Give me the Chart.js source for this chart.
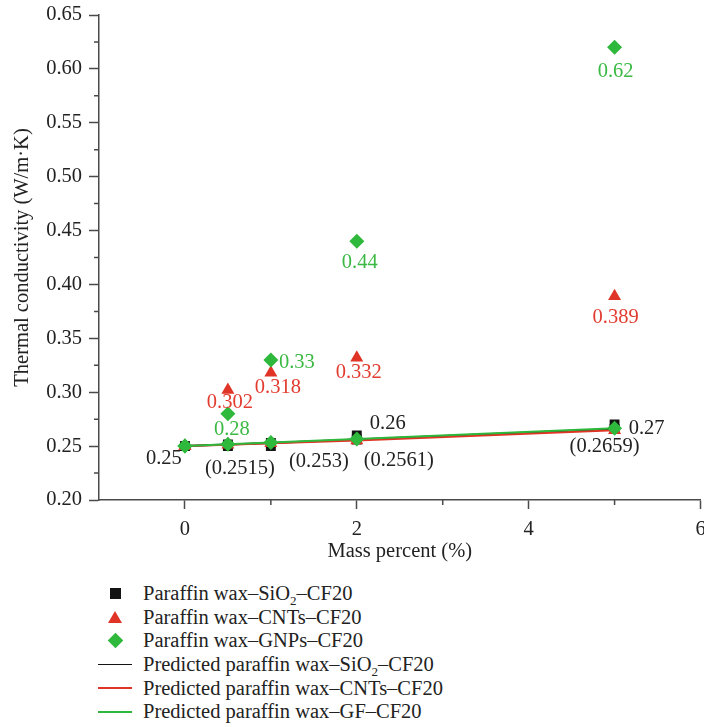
<!DOCTYPE html>
<html>
<head>
<meta charset="utf-8">
<script src="https://cdn.jsdelivr.net/npm/chart.js@4.4.0/dist/chart.umd.min.js"></script>
<style>
    body { margin: 0; background: #fff; }
    #wrap { position: relative; width: 704px; height: 727px; overflow: hidden; }
    #legend { position: absolute; left: 0; top: 582px; font-family: "Liberation Serif", serif; font-size: 20.5px; color: #222; }
    .row { display: flex; align-items: center; height: 23.6px; white-space: nowrap; }
    .key { width: 34px; margin-left: 98px; margin-right: 11px; display: flex; justify-content: center; align-items: center; height: 20px; }
    .sq { width: 11px; height: 11px; }
    .tri { width: 0; height: 0; border-left: 7px solid transparent; border-right: 7px solid transparent; border-bottom: 12px solid; }
    .dia { width: 11px; height: 11px; transform: rotate(45deg); }
    .ln { width: 34px; height: 1.5px; }
    sub { font-size: 13px; line-height: 0; }
</style>
</head>
<body>
<div id="wrap">
    <canvas id="chart" width="708" height="575"></canvas>
    <div id="legend"></div>
</div>
<script>
// Data
const massPercent = [0, 0.5, 1, 2, 5];
const sio2Measured = [0.25, 0.25, 0.25, 0.26, 0.27];
const cntsMeasured = [0.25, 0.302, 0.318, 0.332, 0.389];
const gnpsMeasured = [0.25, 0.28, 0.33, 0.44, 0.62];
const sio2Predicted = [0.25, 0.2515, 0.253, 0.2561, 0.2659];
const cntsPredicted = [0.25, 0.2512, 0.2526, 0.2553, 0.2648];
const gfPredicted = [0.25, 0.2517, 0.2533, 0.2565, 0.2665];

const xTicks = [0, 2, 4, 6];
const xMinorTicks = [1, 3, 5];
const yTicks = [0.20, 0.25, 0.30, 0.35, 0.40, 0.45, 0.50, 0.55, 0.60, 0.65];
const yMinorTicks = [0.225, 0.275, 0.325, 0.375, 0.425, 0.475, 0.525, 0.575, 0.625];

const seriesNames = [
    'Paraffin wax–SiO2–CF20',
    'Paraffin wax–CNTs–CF20',
    'Paraffin wax–GNPs–CF20',
    'Predicted paraffin wax–SiO2–CF20',
    'Predicted paraffin wax–CNTs–CF20',
    'Predicted paraffin wax–GF–CF20'
];

const BLACK = '#141414';
const RED = '#e03426';
const GREEN = '#2eb83c';
const AXIS = '#4a4a4a';
const FONT = '"Liberation Serif", serif';

const toPoints = ys => massPercent.map((x, i) => ({ x, y: ys[i] }));

// Value labels next to points (offsets in px from the point)
const valueLabels = [
    { dataset: 0, values: sio2Measured, color: '#222', format: v => String(v), offsets: [[-21, 12], null, null, [31, -12], [32, 4]] },
    { dataset: 3, values: sio2Predicted, color: '#222', format: v => '(' + v + ')', offsets: [null, [12, 24], [48, 19], [42, 21], [-10, 18]] },
    { dataset: 1, values: cntsMeasured, color: '#e23c30', format: v => String(v), offsets: [null, [2, 13], [7, 15], [2, 15], [1, 21]] },
    { dataset: 2, values: gnpsMeasured, color: '#3cb944', format: v => String(v), offsets: [null, [4, 16], [26, 3], [3, 21], [1, 24]] }
];

function pointSet(label, ys, color, style, radius, order) {
    return {
        label, data: toPoints(ys), showLine: false, order,
        pointStyle: style, pointRadius: radius, pointHoverRadius: radius,
        backgroundColor: color, borderColor: color, pointBorderWidth: 0
    };
}

function lineSet(label, ys, color, style, radius, order) {
    return {
        label, data: toPoints(ys), showLine: true, order,
        borderColor: color, borderWidth: 2, backgroundColor: color,
        pointStyle: style, pointRadius: radius, pointHoverRadius: radius, pointBorderWidth: 0
    };
}

const valueLabelPlugin = {
    id: 'valueLabels',
    afterDatasetsDraw(chart) {
        const ctx = chart.ctx;
        ctx.save();
        ctx.font = '20.5px ' + FONT;
        ctx.textAlign = 'center';
        ctx.textBaseline = 'middle';
        valueLabels.forEach(l => {
            const meta = chart.getDatasetMeta(l.dataset);
            meta.data.forEach((pt, i) => {
                const off = l.offsets[i];
                if (!off) return;
                ctx.fillStyle = l.color;
                ctx.fillText(l.format(l.values[i]), pt.x + off[0], pt.y + off[1]);
            });
        });
        ctx.restore();
    }
};

const minorTickPlugin = {
    id: 'minorTicks',
    afterDraw(chart) {
        const { ctx, scales: { x, y } } = chart;
        ctx.save();
        ctx.strokeStyle = AXIS;
        ctx.lineWidth = 1.5;
        ctx.beginPath();
        xMinorTicks.forEach(v => {
            const px = x.getPixelForValue(v);
            ctx.moveTo(px, x.top);
            ctx.lineTo(px, x.top + 5);
        });
        yMinorTicks.forEach(v => {
            const py = y.getPixelForValue(v);
            ctx.moveTo(y.right - 5, py);
            ctx.lineTo(y.right, py);
        });
        ctx.stroke();
        ctx.restore();
    }
};

const chart = new Chart(document.getElementById('chart'), {
    type: 'scatter',
    data: {
        datasets: [
            pointSet(seriesNames[0], sio2Measured, BLACK, 'rect', 7, 5),
            pointSet(seriesNames[1], cntsMeasured, RED, 'triangle', 7.5, 3),
            pointSet(seriesNames[2], gnpsMeasured, GREEN, 'rectRot', 7.5, 1),
            lineSet(seriesNames[3], sio2Predicted, BLACK, 'rect', 7, 4),
            lineSet(seriesNames[4], cntsPredicted, RED, 'triangle', 7.5, 2),
            lineSet(seriesNames[5], gfPredicted, GREEN, 'rectRot', 7.5, 0)
        ]
    },
    options: {
        responsive: false,
        animation: false,
        layout: { padding: { top: 15, right: 0, left: 0, bottom: 0 } },
        font: { family: FONT },
        plugins: { legend: { display: false }, tooltip: { enabled: false } },
        scales: {
            x: {
                type: 'linear', min: -1, max: 6,
                afterBuildTicks: s => { s.ticks = xTicks.map(v => ({ value: v })); },
                afterFit: s => { s.height = 75; s.paddingLeft = 0; s.paddingRight = 0; },
                border: { color: AXIS, width: 1.5 },
                grid: { display: true, drawOnChartArea: false, drawTicks: true, tickLength: 9, tickColor: AXIS, tickWidth: 1.5 },
                ticks: { color: '#222', padding: 8, autoSkip: false, maxRotation: 0, font: { family: FONT, size: 20.5 }, callback: v => String(v) },
                title: { display: true, text: 'Mass percent (%)', color: '#222', font: { family: FONT, size: 20.5 }, padding: { top: 0, bottom: 11 } }
            },
            y: {
                type: 'linear', min: 0.2, max: 0.65,
                afterBuildTicks: s => { s.ticks = yTicks.map(v => ({ value: v })); },
                afterFit: s => { s.width = 99; s.paddingTop = 0; s.paddingBottom = 0; },
                border: { color: AXIS, width: 1.5 },
                grid: { display: true, drawOnChartArea: false, drawTicks: true, tickLength: 10, tickColor: AXIS, tickWidth: 1.5 },
                ticks: { color: '#222', padding: 7, autoSkip: false, font: { family: FONT, size: 20.5 }, callback: v => v.toFixed(2) },
                title: { display: true, text: 'Thermal conductivity (W/m·K)', color: '#222', font: { family: FONT, size: 20.5 }, padding: { top: 10, bottom: 0 } }
            }
        }
    },
    plugins: [valueLabelPlugin, minorTickPlugin]
});

// HTML legend
function buildLegend() {
    const legend = document.getElementById('legend');
    chart.data.datasets.forEach(ds => {
        const row = document.createElement('div');
        row.className = 'row';
        let key;
        if (ds.showLine) {
            key = `<span class="ln" style="background:${ds.borderColor}"></span>`;
        } else if (ds.pointStyle === 'rect') {
            key = `<span class="sq" style="background:${ds.backgroundColor}"></span>`;
        } else if (ds.pointStyle === 'triangle') {
            key = `<span class="tri" style="border-bottom-color:${ds.backgroundColor}"></span>`;
        } else {
            key = `<span class="dia" style="background:${ds.backgroundColor}"></span>`;
        }
        const text = ds.label.replace('SiO2', 'SiO<sub>2</sub>');
        row.innerHTML = `<span class="key">${key}</span><span>${text}</span>`;
        legend.appendChild(row);
    });
}
buildLegend();
</script>
</body>
</html>
